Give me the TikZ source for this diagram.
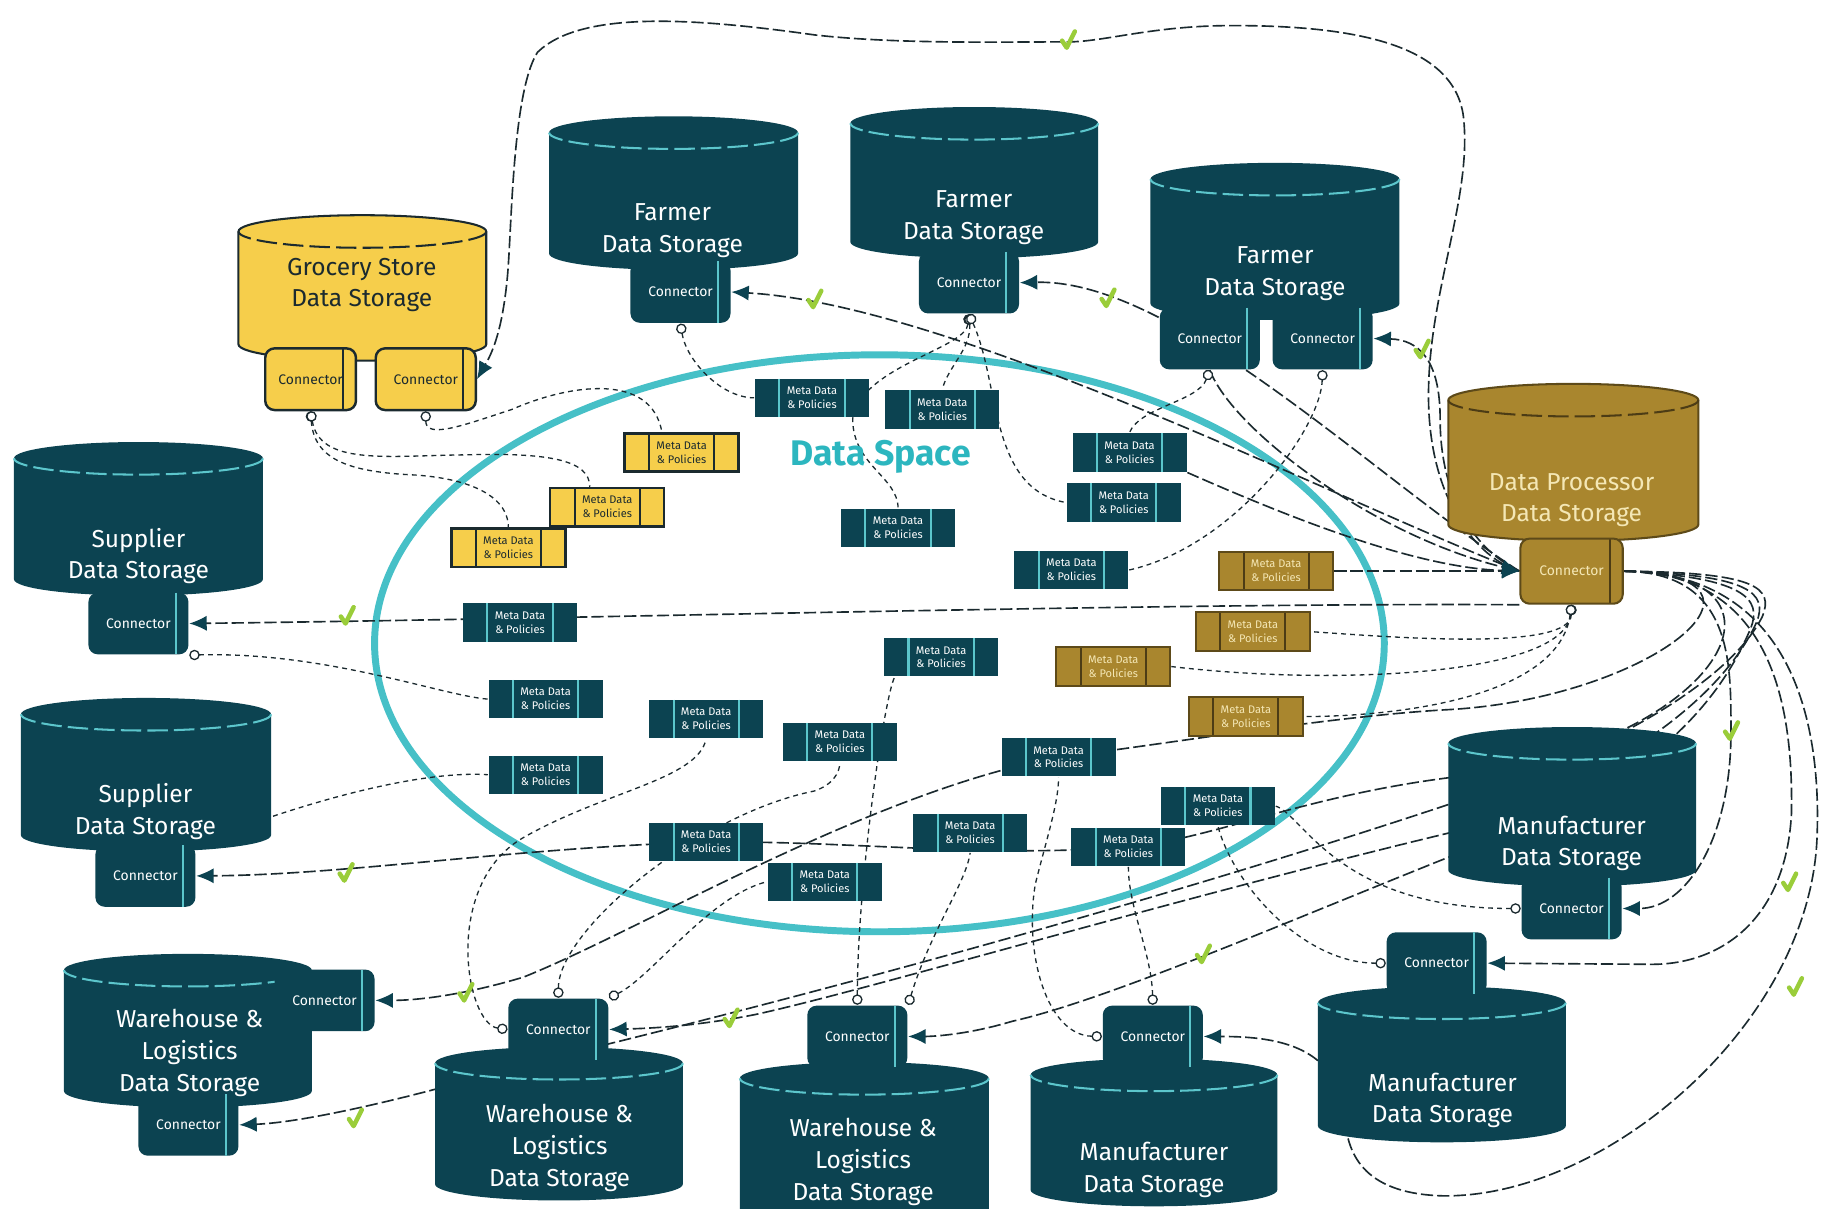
\documentclass[tikz,border=0pt]{standalone}
\usepackage{fontspec}
\setmainfont{Fira Sans}
\usetikzlibrary{arrows.meta}

\definecolor{deep}{HTML}{0C4351}
\definecolor{rimc}{HTML}{5CC6CC}
\definecolor{gold}{HTML}{F6CE4B}
\definecolor{ochre}{HTML}{A9862E}
\definecolor{ring}{HTML}{46C0C7}
\definecolor{spacec}{HTML}{2CB6BF}
\definecolor{ink}{HTML}{1B2A2F}
\definecolor{tick}{HTML}{9ACD3A}
\definecolor{cream}{HTML}{F4E7B5}

\pgfdeclarelayer{paper}
\pgfdeclarelayer{ringlayer}
\pgfdeclarelayer{wires}
\pgfsetlayers{paper,ringlayer,wires,main}

% storage drum: left, right, top, bottom, style
\newcommand\dbcyl[5]{%
  \pgfmathsetmacro\cylrx{(#2-#1)/2}%
  \path[#5] (#1,#3+14) arc[start angle=180,end angle=360,x radius=\cylrx,y radius=14]
    -- (#2,#4-14) arc[start angle=0,end angle=180,x radius=\cylrx,y radius=14] -- cycle;
  \draw[#5rim] (#2,#3+14) arc[start angle=0,end angle=180,x radius=\cylrx,y radius=14];
}
% green check on a transfer line
\newcommand\okat[2]{\draw[okmark] (#1-5,#2-1) -- (#1-1,#2+5) -- (#1+6,#2-9);}

\tikzset{
  stext/.style={font=\fontsize{6}{7.8}\selectfont, align=center, inner sep=0pt},
  tstore/.style={fill=deep},
  tstorerim/.style={draw=rimc, line width=0.5pt, dash pattern=on 5pt off 1.5pt},
  ystore/.style={fill=gold, draw=ink, line width=0.5pt},
  ystorerim/.style={draw=ink, line width=0.5pt, dash pattern=on 5pt off 1.5pt},
  ostore/.style={fill=ochre, draw=ochre!55!black, line width=0.5pt},
  ostorerim/.style={draw=ochre!45!black, line width=0.5pt, dash pattern=on 5pt off 1.5pt},
  connbase/.style={rectangle, rounded corners=0.8mm, minimum width=8.6mm,
    minimum height=5.3mm, inner sep=0pt, font=\fontsize{3.4}{4}\selectfont},
  endline/.style={path picture={\draw[#1, line width=0.5pt]
    ([xshift=-1.1mm]path picture bounding box.north east) --
    ([xshift=-1.1mm]path picture bounding box.south east);}},
  tconn/.style={connbase, fill=deep, text=white, endline=rimc},
  yconn/.style={connbase, fill=gold, draw=ink, line width=0.6pt, text=ink, endline=ink},
  oconn/.style={connbase, fill=ochre, draw=ochre!55!black, line width=0.5pt, text=cream, endline=ochre!45!black},
  metabase/.style={rectangle, minimum width=9.8mm, minimum height=3.3mm, inner sep=0pt,
    align=center, font=\fontsize{2.7}{3.4}\selectfont},
  bars/.style={path picture={\draw[#1, line width=0.5pt]
    ([xshift=2.1mm]path picture bounding box.north west) --
    ([xshift=2.1mm]path picture bounding box.south west)
    ([xshift=-2.1mm]path picture bounding box.north east) --
    ([xshift=-2.1mm]path picture bounding box.south east);}},
  tmeta/.style={metabase, fill=deep, text=white, bars=rimc},
  ymeta/.style={metabase, fill=gold, draw=ink, line width=0.6pt, text=ink, bars=ink},
  ometa/.style={metabase, fill=ochre, draw=ochre!55!black, line width=0.5pt, text=cream, bars=ochre!45!black},
  flow/.style={draw=ink, line width=0.4pt, dash pattern=on 3pt off 1pt,
    -{Latex[length=1.5mm,width=1.3mm,color=deep]}},
  link/.style={draw=ink, line width=0.32pt, dash pattern=on 1.2pt off 1pt,
    {Circle[length=0.9mm,fill=white]}-},
  okmark/.style={draw=tick, line width=1.1pt, line cap=round, line join=round},
}

\begin{document}
\begin{tikzpicture}[x=0.1mm,y=-0.1mm]
\begin{pgfonlayer}{paper}
  \fill[white] (0,0) rectangle (1568,1039);
\end{pgfonlayer}
\useasboundingbox (0,0) rectangle (1568,1039);

% ---------- the data space ----------
\begin{pgfonlayer}{ringlayer}
  \draw[ring, line width=1.7pt] (756,553) ellipse [x radius=434, y radius=248];
\end{pgfonlayer}
\node[font=\fontsize{8.7}{10}\selectfont\bfseries, text=spacec] (title) at (757,393) {Data Space};

% ---------- storages ----------
\dbcyl{205}{418}{185}{310}{ystore}
\dbcyl{472}{686}{100}{232}{tstore}
\dbcyl{731}{944}{92}{222}{tstore}
\dbcyl{989}{1203}{140}{275}{tstore}
\dbcyl{1245}{1460}{330}{465}{ostore}
\dbcyl{12}{226}{380}{512}{tstore}
\dbcyl{18}{233}{600}{732}{tstore}
\dbcyl{55}{268}{820}{952}{tstore}
\dbcyl{374}{587}{900}{1032}{tstore}
\dbcyl{636}{850}{913}{1060}{tstore}
\dbcyl{886}{1098}{910}{1037}{tstore}
\dbcyl{1133}{1346}{848}{982}{tstore}
\dbcyl{1245}{1458}{625}{762}{tstore}

\node[stext, text=ink] (grocery) at (311,245) {Grocery Store\\Data Storage};
\node[stext, text=white] (farmerA) at (578,198) {Farmer\\Data Storage};
\node[stext, text=white] (farmerB) at (837,187) {Farmer\\Data Storage};
\node[stext, text=white] (farmerC) at (1096,235) {Farmer\\Data Storage};
\node[stext, text=cream] (processor) at (1351,430) {Data Processor\\Data Storage};
\node[stext, text=white] (supplierA) at (119,478) {Supplier\\Data Storage};
\node[stext, text=white] (supplierB) at (125,698) {Supplier\\Data Storage};
\node[stext, text=white] (warehouseA) at (163,905) {Warehouse \&\\Logistics\\Data Storage};
\node[stext, text=white] (warehouseB) at (481,987) {Warehouse \&\\Logistics\\Data Storage};
\node[stext, text=white] (warehouseC) at (742,999) {Warehouse \&\\Logistics\\Data Storage};
\node[stext, text=white] (makerA) at (992,1006) {Manufacturer\\Data Storage};
\node[stext, text=white] (makerB) at (1240,946) {Manufacturer\\Data Storage};
\node[stext, text=white] (makerC) at (1351,725) {Manufacturer\\Data Storage};

% ---------- connectors ----------
\node[yconn, minimum width=7.8mm] (gc1) at (267,326) {Connector};
\node[yconn] (gc2) at (366,326) {Connector};
\node[tconn] (fc1) at (585,251) {Connector};
\node[tconn] (fc2) at (833,243) {Connector};
\node[tconn] (fc3a) at (1040,291) {Connector};
\node[tconn] (fc3b) at (1137,291) {Connector};
\node[oconn, minimum width=8.8mm, minimum height=5.6mm] (dpc) at (1351,491) {Connector};
\node[tconn] (sc1) at (119,536) {Connector};
\node[tconn] (sc2) at (125,753) {Connector};
\node[tconn] (wc1a) at (279,860) {Connector};
\node[tconn] (wc1b) at (162,967) {Connector};
\node[tconn] (wc2) at (480,885) {Connector};
\node[tconn] (wc3) at (737,891) {Connector};
\node[tconn] (mc1) at (991,891) {Connector};
\node[tconn] (mc2) at (1235,828) {Connector};
\node[tconn] (mc3) at (1351,781) {Connector};

% ---------- meta data & policies ----------
\node[ymeta] (y1) at (586,389) {Meta Data\\\& Policies};
\node[ymeta] (y2) at (522,436) {Meta Data\\\& Policies};
\node[ymeta] (y3) at (437,471) {Meta Data\\\& Policies};
\node[tmeta] (t1) at (698,342) {Meta Data\\\& Policies};
\node[tmeta] (t2) at (810,352) {Meta Data\\\& Policies};
\node[tmeta] (t3) at (971,389) {Meta Data\\\& Policies};
\node[tmeta] (t4) at (966,432) {Meta Data\\\& Policies};
\node[tmeta] (t5) at (772,454) {Meta Data\\\& Policies};
\node[tmeta] (t6) at (921,490) {Meta Data\\\& Policies};
\node[tmeta] (t7) at (447,535) {Meta Data\\\& Policies};
\node[tmeta] (t8) at (809,565) {Meta Data\\\& Policies};
\node[tmeta] (t9) at (469,601) {Meta Data\\\& Policies};
\node[tmeta] (t10) at (607,618) {Meta Data\\\& Policies};
\node[tmeta] (t11) at (722,638) {Meta Data\\\& Policies};
\node[tmeta] (t12) at (469,666) {Meta Data\\\& Policies};
\node[tmeta] (t13) at (910,651) {Meta Data\\\& Policies};
\node[tmeta] (t14) at (1047,693) {Meta Data\\\& Policies};
\node[tmeta] (t15) at (970,728) {Meta Data\\\& Policies};
\node[tmeta] (t16) at (607,724) {Meta Data\\\& Policies};
\node[tmeta] (t17) at (709,758) {Meta Data\\\& Policies};
\node[tmeta] (t18) at (834,716) {Meta Data\\\& Policies};
\node[ometa] (b1) at (1097,491) {Meta Data\\\& Policies};
\node[ometa] (b2) at (1077,543) {Meta Data\\\& Policies};
\node[ometa] (b3) at (957,573) {Meta Data\\\& Policies};
\node[ometa] (b4) at (1071,616) {Meta Data\\\& Policies};

% ---------- transfers and links ----------
\begin{pgfonlayer}{wires}
  % processor -> grocery store, round the top
  \draw[flow] (dpc.west) .. controls (1270,480) and (1228,430) .. (1228,340)
    .. controls (1228,250) and (1266,170) .. (1258,100)
    .. controls (1250,40) and (1170,22) .. (1060,22)
    .. controls (990,22) and (950,36) .. (918,36)
    .. controls (860,36) and (770,38) .. (700,30)
    .. controls (600,16) and (500,8) .. (462,45)
    .. controls (440,80) and (440,200) .. (436,240)
    .. controls (432,280) and (425,300) .. (gc2.east);
  % processor -> farmers
  \draw[flow] (dpc.west) .. controls (1150,430) and (820,262) .. (fc1.east);
  \draw[flow] (dpc.west) .. controls (1180,410) and (1010,240) .. (fc2.east);
  \draw[flow] (dpc.west) .. controls (1262,470) and (1238,420) .. (1238,360)
    .. controls (1238,310) and (1220,292) .. (fc3b.east);
  % processor -> suppliers
  \draw[flow] (dpc.south west) .. controls (1000,518) and (500,532) .. (sc1.east);
  \draw[flow] (dpc.east) .. controls (1560,492) and (1480,640) .. (1250,668)
    .. controls (1120,684) and (1040,722) .. (970,728)
    .. controls (850,738) and (720,722) .. (607,724)
    .. controls (450,728) and (300,752) .. (sc2.east);
  % processor -> warehouses
  \draw[flow] (dpc.east) .. controls (1550,494) and (1420,600) .. (1246,610)
    .. controls (1150,615) and (1000,640) .. (910,651)
    .. controls (750,680) and (550,800) .. (450,840)
    .. controls (400,855) and (360,860) .. (wc1a.east);
  \draw[flow] (dpc.east) .. controls (1510,492) and (1525,505) .. (1515,530)
    .. controls (1490,580) and (1400,640) .. (1250,690)
    .. controls (950,790) and (600,880) .. (450,915)
    .. controls (350,945) and (260,965) .. (wc1b.east);
  \draw[flow] (dpc.east) .. controls (1505,494) and (1520,510) .. (1510,535)
    .. controls (1485,590) and (1410,660) .. (1250,715)
    .. controls (1000,775) and (750,850) .. (650,872)
    .. controls (600,882) and (560,884) .. (wc2.east);
  \draw[flow] (dpc.east) .. controls (1500,496) and (1515,515) .. (1505,540)
    .. controls (1480,600) and (1420,680) .. (1250,735)
    .. controls (1100,795) and (950,860) .. (870,878)
    .. controls (830,890) and (800,891) .. (wc3.east);
  % processor -> manufacturers
  \draw[flow] (dpc.east) .. controls (1490,492) and (1488,570) .. (1488,630)
    .. controls (1488,720) and (1450,781) .. (mc3.east);
  \draw[flow] (dpc.east) .. controls (1520,492) and (1542,600) .. (1540,700)
    .. controls (1535,790) and (1480,829) .. (1420,829) -- (mc2.east);
  \draw[flow] (dpc.east) .. controls (1540,492) and (1566,620) .. (1562,720)
    .. controls (1556,880) and (1380,1030) .. (1240,1028)
    .. controls (1170,1026) and (1158,990) .. (1156,960)
    .. controls (1150,900) and (1100,891) .. (mc1.east);
  % into the processor
  \draw[flow] (fc3a.south) .. controls (1060,370) and (1180,460) .. (dpc.west);
  \draw[flow] (t3.south east) .. controls (1120,450) and (1220,488) .. (dpc.west);
  \draw[flow] (b1.east) .. controls (1200,491) and (1260,491) .. (dpc.west);
  % connectors to their meta data
  \draw[link] (gc1.south) .. controls (270,395) and (300,405) .. (350,408)
    .. controls (400,410) and (437,425) .. (y3.north);
  \draw[link] (gc1.south) .. controls (275,400) and (330,392) .. (400,391)
    .. controls (470,389) and (507,395) .. ([xshift=-1.5mm]y2.north);
  \draw[link] (gc2.south) .. controls (366,378) and (400,365) .. (440,352)
    .. controls (490,330) and (560,320) .. ([xshift=-1.7mm]y1.north);
  \draw[link] (fc1.south) .. controls (590,310) and (620,342) .. (t1.west);
  \draw[link] (fc2.south) .. controls (830,300) and (740,315) .. (733,360)
    .. controls (733,400) and (772,410) .. (t5.north);
  \draw[link] (fc2.south) .. controls (835,300) and (815,315) .. (t2.north);
  \draw[link] (fc2.south) .. controls (860,330) and (850,420) .. (t4.west);
  \draw[link] (fc3a.south) .. controls (1030,345) and (980,350) .. (t3.north);
  \draw[link] (fc3b.south) .. controls (1135,370) and (1060,470) .. (t6.east);
  \draw[link] (dpc.south) .. controls (1350,560) and (1200,548) .. (b2.east);
  \draw[link] (dpc.south) .. controls (1345,580) and (1150,590) .. (b3.east);
  \draw[link] (dpc.south) .. controls (1340,600) and (1200,616) .. (b4.east);
  \draw[link] (sc1.south east) .. controls (280,560) and (380,598) .. (t9.west);
  \draw[link] (sc2.north east) .. controls (260,690) and (360,662) .. (t12.west);
  \draw[link] (wc2.west) .. controls (400,880) and (380,760) .. (450,720)
    .. controls (520,680) and (600,670) .. (t10.south);
  \draw[link] (wc2.north) .. controls (480,800) and (600,700) .. (700,680)
    .. controls (715,675) and (722,665) .. (t11.south);
  \draw[link] (wc2.north east) .. controls (560,840) and (610,770) .. (t17.west);
  \draw[link] (wc3.north) .. controls (737,760) and (760,600) .. ([xshift=-4mm]t8.south);
  \draw[link] (wc3.north east) .. controls (800,800) and (830,760) .. (t18.south);
  \draw[link] (mc1.west) .. controls (900,890) and (880,820) .. (890,760)
    .. controls (900,720) and (910,690) .. (t13.south);
  \draw[link] (mc1.north) .. controls (990,820) and (970,780) .. (t15.south);
  \draw[link] (mc2.west) .. controls (1120,828) and (1060,760) .. (t14.south);
  \draw[link] (mc3.west) .. controls (1150,781) and (1120,700) .. (t14.east);
\end{pgfonlayer}

% ---------- checks on the transfers ----------
\okat{918}{36}
\okat{700}{259}
\okat{952}{258}
\okat{1222}{302}
\okat{298}{531}
\okat{297}{752}
\okat{400}{855}
\okat{305}{963}
\okat{628}{877}
\okat{1034}{822}
\okat{1488}{630}
\okat{1538}{760}
\okat{1543}{850}
\end{tikzpicture}
\end{document}
